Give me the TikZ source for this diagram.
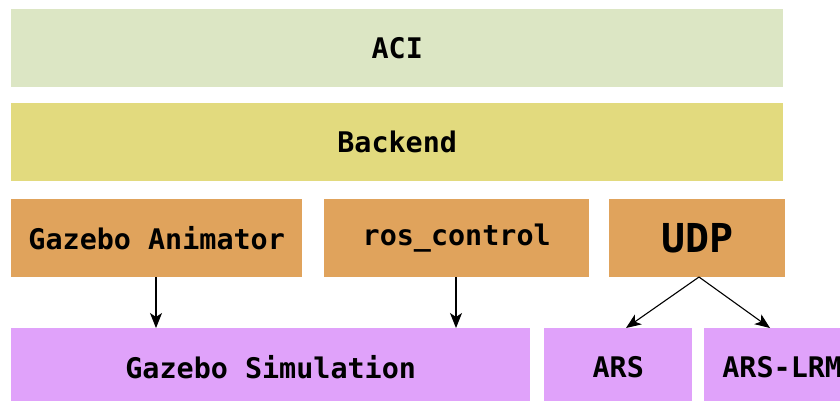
\documentclass[tikz,border=0pt]{standalone}
\usepackage{fontspec}
\setmonofont{DejaVu Sans Mono}
\usetikzlibrary{arrows.meta}
\definecolor{cgreen}{RGB}{220,230,196}
\definecolor{cyellow}{RGB}{226,218,126}
\definecolor{corange}{RGB}{224,163,92}
\definecolor{cpurple}{RGB}{224,162,250}
\tikzset{
  layerbox/.style={draw=none, minimum height=78bp, inner sep=0pt, anchor=north west,
    font=\ttfamily\bfseries\fontsize{28.5}{30}\selectfont},
  conn/.style={-{Stealth[length=15bp,width=12bp,inset=4bp]}, line width=1.1bp, draw=black}
}
\begin{document}
\begin{tikzpicture}[x=1bp,y=-1bp]
\useasboundingbox (0,0) rectangle (840,400);
\clip (0,0) rectangle (840,400);
\fill[white] (0,0) rectangle (840,400);
\node[layerbox, fill=cgreen, minimum width=772bp] (aci) at (11,9) {ACI};
\node[layerbox, fill=cyellow, minimum width=772bp] (backend) at (11,103) {Backend};
\node[layerbox, fill=corange, minimum width=291bp] (anim) at (11,199) {Gazebo Animator};
\node[layerbox, fill=corange, minimum width=265bp] (ros) at (324,199) {ros\_control};
\node[layerbox, fill=corange, minimum width=176bp, font=\ttfamily\bfseries\fontsize{40}{42}\selectfont] (udp) at (609,199) {UDP};
\node[layerbox, fill=cpurple, minimum width=519bp] (sim) at (11,328) {Gazebo Simulation};
\node[layerbox, fill=cpurple, minimum width=148bp] (ars) at (544,328) {ARS};
\node[layerbox, fill=cpurple, minimum width=156bp] (lrm) at (704,328) {ARS-LRM};
\draw[conn] (anim.south -| 156,0) -- (sim.north -| 156,0);
\draw[conn] (ros.south -| 456,0) -- (sim.north -| 456,0);
\coordinate (udpb) at (699,277);
\draw[conn] (udpb) -- (ars.north -| 626,0);
\draw[conn] (udpb) -- (lrm.north -| 770,0);
\end{tikzpicture}
\end{document}
